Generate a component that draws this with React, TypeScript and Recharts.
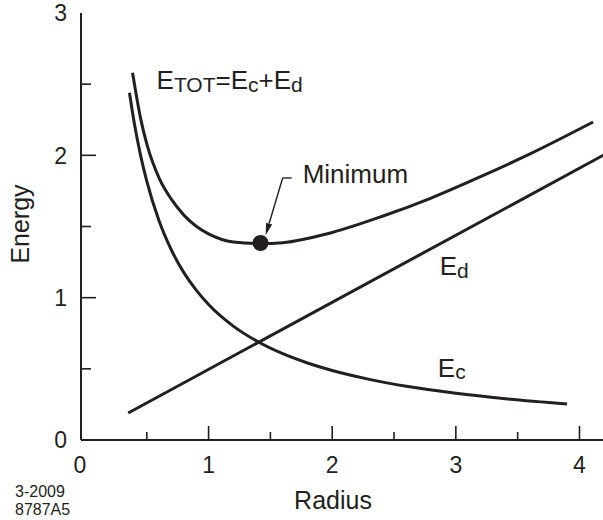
import React from 'react';
import { LineChart, Line, XAxis, YAxis, ReferenceDot, ReferenceLine } from 'recharts';

// ---- data ----
const ecX = [0.36, 0.4, 0.45, 0.5, 0.6, 0.7, 0.8, 0.9, 1.0, 1.2, 1.4, 1.6, 1.8, 2.0, 2.3, 2.6, 3.0, 3.4, 3.9];
const ecY = [2.44, 2.222, 2.0, 1.818, 1.538, 1.333, 1.176, 1.053, 0.952, 0.8, 0.69, 0.606, 0.541, 0.488, 0.426, 0.377, 0.328, 0.29, 0.253];

const edX = [0.35, 4.255];
const edY = [0.19, 2.03];

const etotX = [0.385, 0.45, 0.5, 0.6, 0.7, 0.8, 0.9, 1.0, 1.2, 1.42, 1.6, 1.8, 2.0, 2.4, 2.8, 3.2, 3.6, 4.11];
const etotY = [2.58, 2.26, 2.08, 1.84, 1.69, 1.58, 1.502, 1.448, 1.391, 1.38, 1.386, 1.416, 1.458, 1.57, 1.7, 1.85, 2.01, 2.234];

const minimumPoint = { x: 1.42, y: 1.384 };

const xTicks = [0, 0.5, 1, 1.5, 2, 2.5, 3, 3.5, 4];
const yTicks = [0, 0.5, 1, 1.5, 2, 2.5, 3];
const xDomain: [number, number] = [-0.032, 4.255];
const yDomain: [number, number] = [0, 3];

const INK = '#231f20';
const FONT = '"Liberation Sans", Arial, Helvetica, sans-serif';

const toRows = (xs: number[], ys: number[]) => xs.map((x, i) => ({ x, y: ys[i] }));
const ecData = toRows(ecX, ecY);
const edData = toRows(edX, edY);
const etotData = toRows(etotX, etotY);

const isMajor = (v: number) => Math.abs(v - Math.round(v)) < 1e-9;

const BottomTick = (p: any) => {
  const v = p.payload.value;
  const major = isMajor(v);
  return (
    <g>
      {v !== 0 && (
        <line x1={p.x} y1={p.y} x2={p.x} y2={p.y - (major ? 14 : 8)} stroke={INK} strokeWidth={1.6} />
      )}
      {major && (
        <text x={p.x + (v === 0 ? -5 : 0)} y={p.y + 33} textAnchor="middle" fontSize={23} fontFamily={FONT} fill={INK}>
          {v}
        </text>
      )}
    </g>
  );
};

const TopTick = (p: any) => {
  const v = p.payload.value;
  if (v === 0) return <g />;
  const major = isMajor(v);
  return <line x1={p.x} y1={p.y} x2={p.x} y2={p.y + (major ? 14 : 9)} stroke={INK} strokeWidth={1.6} />;
};

const LeftTick = (p: any) => {
  const v = p.payload.value;
  const major = isMajor(v);
  return (
    <g>
      {v !== 0 && v !== 3 && (
        <line x1={p.x} y1={p.y} x2={p.x + (major ? 15 : 10)} y2={p.y} stroke={INK} strokeWidth={1.6} />
      )}
      {major && (
        <text x={p.x - 14} y={p.y} dy="0.36em" textAnchor="end" fontSize={23} fontFamily={FONT} fill={INK}>
          {v}
        </text>
      )}
    </g>
  );
};

const RightTick = (p: any) => {
  const v = p.payload.value;
  if (v === 0 || v === 3) return <g />;
  const major = isMajor(v);
  return <line x1={p.x} y1={p.y} x2={p.x - (major ? 14 : 9)} y2={p.y} stroke={INK} strokeWidth={1.6} />;
};

const XTitle = (p: any) => {
  const vb = p.viewBox || { x: 81, y: 440, width: 530, height: 80 };
  return (
    <g>
      <text x={vb.x + 252} y={vb.y + 69} textAnchor="middle" fontSize={25} fontFamily={FONT} fill={INK}>
        Radius
      </text>
      <text x={15} y={vb.y + 57} fontSize={16} fontFamily={FONT} fill={INK}>
        3-2009
      </text>
      <text x={15} y={vb.y + 75} fontSize={16} fontFamily={FONT} fill={INK}>
        8787A5
      </text>
    </g>
  );
};

const YTitle = (p: any) => {
  const vb = p.viewBox || { x: 0, y: 13, width: 81, height: 427 };
  const cx = vb.x + 20;
  const cy = vb.y + 211;
  return (
    <text
      x={cx}
      y={cy}
      transform={`rotate(-90 ${cx} ${cy})`}
      textAnchor="middle"
      dominantBaseline="central"
      fontSize={25}
      fontFamily={FONT}
      fill={INK}
    >
      Energy
    </text>
  );
};

const TextAt = (content: React.ReactNode) => (p: any) => (
  <text x={p.cx} y={p.cy} fontSize={26} fontFamily={FONT} fill={INK}>
    {content}
  </text>
);

const EtotLabel = TextAt(
  <>
    E<tspan fontSize={21} dy={2.5}>TOT</tspan>
    <tspan dy={-2.5}>=E</tspan>
    <tspan fontSize={21} dy={2.5}>c</tspan>
    <tspan dy={-2.5}>+E</tspan>
    <tspan fontSize={21} dy={2.5}>d</tspan>
  </>
);
const EdLabel = TextAt(
  <>
    E<tspan fontSize={21} dy={2.5}>d</tspan>
  </>
);
const EcLabel = TextAt(
  <>
    E<tspan fontSize={21} dy={2.5}>c</tspan>
  </>
);
const MinLabel = TextAt('Minimum');

const ArrowShape = (p: any) => {
  const { x1, y1, x2, y2 } = p;
  const ang = Math.atan2(y2 - y1, x2 - x1);
  const L = 12;
  const Wd = 3.2;
  const bx = x2 - L * Math.cos(ang);
  const by = y2 - L * Math.sin(ang);
  const nx = -Math.sin(ang) * Wd;
  const ny = Math.cos(ang) * Wd;
  return (
    <g>
      <line x1={x1} y1={y1} x2={bx} y2={by} stroke={INK} strokeWidth={1.4} />
      <polygon points={`${x2},${y2} ${bx + nx},${by + ny} ${bx - nx},${by - ny}`} fill={INK} />
    </g>
  );
};

export default function App() {
  return (
    <div style={{ position: 'absolute', left: 0, top: 0, width: 603, height: 520, overflow: 'hidden', background: '#fff' }}>
      <LineChart width={620} height={520} margin={{ top: 13, right: 9, bottom: 0, left: 0 }}>
        <XAxis
          xAxisId="b"
          type="number"
          dataKey="x"
          domain={xDomain}
          ticks={xTicks}
          interval={0}
          allowDataOverflow
          height={80}
          tickSize={0}
          tickMargin={0}
          tickLine={false}
          axisLine={{ stroke: INK, strokeWidth: 2 }}
          tick={BottomTick}
          label={<XTitle />}
        />
        <XAxis
          xAxisId="t"
          orientation="top"
          type="number"
          domain={xDomain}
          ticks={xTicks}
          interval={0}
          allowDataOverflow
          height={0}
          tickSize={0}
          tickMargin={0}
          tickLine={false}
          axisLine={{ stroke: INK, strokeWidth: 2 }}
          tick={TopTick}
        />
        <YAxis
          yAxisId="l"
          type="number"
          domain={yDomain}
          ticks={yTicks}
          interval={0}
          allowDataOverflow
          width={81}
          tickSize={0}
          tickMargin={0}
          tickLine={false}
          axisLine={{ stroke: INK, strokeWidth: 2 }}
          tick={LeftTick}
          label={<YTitle />}
        />
        <YAxis
          yAxisId="r"
          orientation="right"
          type="number"
          domain={yDomain}
          ticks={yTicks}
          interval={0}
          allowDataOverflow
          width={0}
          tickSize={0}
          tickMargin={0}
          tickLine={false}
          axisLine={{ stroke: INK, strokeWidth: 2 }}
          tick={RightTick}
        />
        <Line xAxisId="b" yAxisId="l" data={ecData} dataKey="y" type="monotone" stroke={INK} strokeWidth={3} dot={false} isAnimationActive={false} />
        <Line xAxisId="b" yAxisId="l" data={edData} dataKey="y" type="linear" stroke={INK} strokeWidth={3} dot={false} isAnimationActive={false} />
        <Line xAxisId="b" yAxisId="l" data={etotData} dataKey="y" type="monotone" stroke={INK} strokeWidth={3} dot={false} isAnimationActive={false} />

        <ReferenceLine xAxisId="b" yAxisId="l" segment={[{ x: 1.672, y: 1.841 }, { x: 1.599, y: 1.841 }]} stroke={INK} strokeWidth={1.4} />
        <ReferenceLine xAxisId="b" yAxisId="l" segment={[{ x: 1.599, y: 1.841 }, { x: 1.462, y: 1.44 }]} shape={ArrowShape} />

        <ReferenceDot xAxisId="b" yAxisId="l" x={minimumPoint.x} y={minimumPoint.y} r={8} fill={INK} stroke="none" />
        <ReferenceDot xAxisId="b" yAxisId="l" x={0.579} y={2.466} r={0} shape={EtotLabel} />
        <ReferenceDot xAxisId="b" yAxisId="l" x={1.761} y={1.806} r={0} shape={MinLabel} />
        <ReferenceDot xAxisId="b" yAxisId="l" x={2.87} y={1.159} r={0} shape={EdLabel} />
        <ReferenceDot xAxisId="b" yAxisId="l" x={2.854} y={0.443} r={0} shape={EcLabel} />
      </LineChart>
    </div>
  );
}
